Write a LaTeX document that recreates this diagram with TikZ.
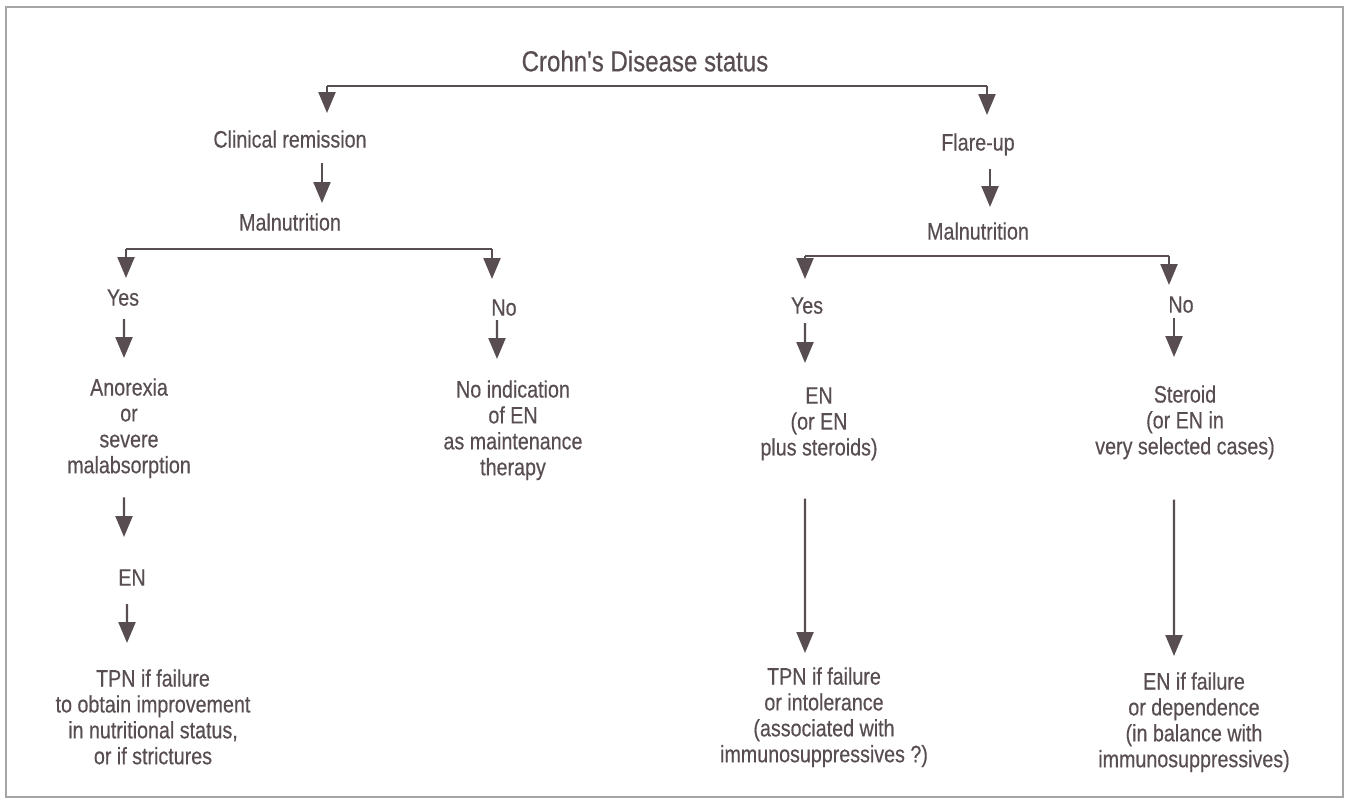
\documentclass[tikz,border=0pt]{standalone}
\usepackage{fontspec}
\setmainfont{Liberation Sans}[FakeStretch=0.83, FakeBold=0.4, Ligatures=TeXOff]
\usepackage{xcolor}
\usepackage{tikz}
\usetikzlibrary{arrows.meta,positioning,calc}

\definecolor{ink}{RGB}{88,78,82}
\definecolor{framegray}{RGB}{165,165,165}

\tikzset{
  txt/.style={anchor=north, inner sep=0pt, align=center, text=ink,
    font=\fontsize{13.5}{14.74}\selectfont},
  flow/.style={draw=ink, line width=1.3pt, -{Triangle[width=0.34cm,length=0.42cm]}},
  bar/.style={draw=ink, line width=1.3pt}
}

\begin{document}
\begin{tikzpicture}[x=0.02cm, y=-0.02cm]
    \useasboundingbox (0,0) rectangle (1349,803);
    % Frame
    \draw[framegray, line width=0.8pt] (6,7) rectangle (1343,797);

    % Status
    \node[txt, font=\fontsize{16.5}{18}\selectfont] (status) at (645,50) {Crohn's Disease status};
    \node[txt] (remis) at (290,130) {Clinical remission};
    \node[txt] (flare) at (978,133) {Flare-up};

    % Malnutrition
    \node[txt] (malL) at (290,213) {Malnutrition};
    \node[txt] (malR) at (978,222) {Malnutrition};

    % Yes / No
    \node[txt] (yesL) at (123,289) {Yes};
    \node[txt] (noL) at (504,299) {No};
    \node[txt] (yesR) at (807,297) {Yes};
    \node[txt] (noR) at (1181,296) {No};

    % Indications
    \node[txt] (anorexia) at (129,378) {Anorexia\\or\\severe\\malabsorption};
    \node[txt] (noind) at (513,380) {No indication\\of EN\\as maintenance\\therapy};
    \node[txt] (enR) at (819,387) {EN\\(or EN\\plus steroids)};
    \node[txt] (steroid) at (1185,385) {Steroid\\(or EN in\\very selected cases)};
    \node[txt] (enL) at (132,569) {EN};

    % Failure
    \node[txt] (tpnL) at (153,669) {TPN if failure\\to obtain improvement\\in nutritional status,\\or if strictures};
    \node[txt] (tpnR) at (824,667) {TPN if failure\\or intolerance\\(associated with\\immunosuppressives ?)};
    \node[txt] (enfail) at (1194,672) {EN if failure\\or dependence\\(in balance with\\immunosuppressives)};

    % Branch bars
    \coordinate (topL) at (327,86);
    \coordinate (topR) at (987,86);
    \coordinate (midL1) at (126,249);
    \coordinate (midL2) at (492,249);
    \coordinate (midR1) at (805,256);
    \coordinate (midR2) at (1169,256);
    \draw[bar] (topL) -- (topR);
    \draw[bar] (midL1) -- (midL2);
    \draw[bar] (midR1) -- (midR2);

    \draw[flow, shorten >=0.34cm] (topL) -- (remis.north -| topL);
    \draw[flow, shorten >=0.36cm] (topR) -- (flare.north -| topR);
    \draw[flow, shorten >=0.22cm] (midL1) -- (yesL.north -| midL1);
    \draw[flow, shorten >=0.4cm] (midL2) -- (noL.north -| midL2);
    \draw[flow, shorten >=0.36cm] (midR1) -- (yesR.north -| midR1);
    \draw[flow, shorten >=0.22cm] (midR2) -- (noR.north -| midR2);

    % Vertical steps
    \draw[flow, shorten <=0.3cm, shorten >=0.2cm] ([xshift=0.64cm]remis.south) -- ([xshift=0.64cm]malL.north);
    \draw[flow, shorten <=0.26cm, shorten >=0.3cm] ([xshift=0.24cm]flare.south) -- ([xshift=0.24cm]malR.north);
    \draw[flow, shorten <=0.26cm, shorten >=0.4cm] ([xshift=0.02cm]yesL.south) -- ([xshift=-0.1cm]anorexia.north);
    \draw[flow, shorten <=0.08cm, shorten >=0.42cm] ([xshift=-0.14cm]noL.south) -- ([xshift=-0.32cm]noind.north);
    \draw[flow, shorten <=0.18cm, shorten >=0.48cm] ([xshift=-0.04cm]yesR.south) -- ([xshift=-0.28cm]enR.north);
    \draw[flow, shorten <=0.1cm, shorten >=0.56cm] ([xshift=-0.14cm]noR.south) -- ([xshift=-0.22cm]steroid.north);
    \draw[flow, shorten <=0.38cm, shorten >=0.64cm] ([xshift=-0.1cm]anorexia.south) -- ([xshift=-0.16cm]enL.north);
    \draw[flow, shorten <=0.36cm, shorten >=0.52cm] ([xshift=-0.1cm]enL.south) -- ([xshift=-0.52cm]tpnL.north);
    \draw[flow, shorten <=0.76cm, shorten >=0.28cm] ([xshift=-0.28cm]enR.south) -- ([xshift=-0.38cm]tpnR.north);
    \draw[flow, shorten <=0.8cm, shorten >=0.32cm] ([xshift=-0.22cm]steroid.south) -- ([xshift=-0.4cm]enfail.north);
\end{tikzpicture}
\end{document}
